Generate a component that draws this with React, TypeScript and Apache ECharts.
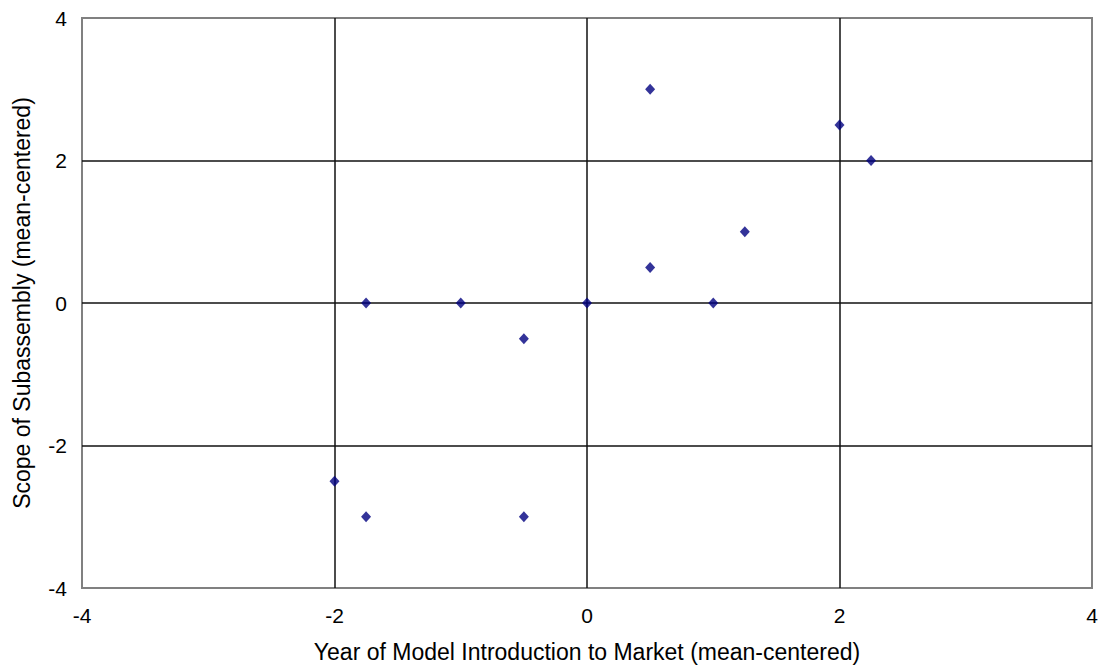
import React, { useEffect, useRef } from "react";
import * as echarts from "echarts";

const xValues = [0.5, 2, 2.25, 1.25, 0.5, 1, 0, -1, -1.75, -0.5, -2, -1.75, -0.5];
const yValues = [3, 2.5, 2, 1, 0.5, 0, 0, 0, 0, -0.5, -2.5, -3, -3];
const xTitle = "Year of Model Introduction to Market (mean-centered)";
const yTitle = "Scope of Subassembly (mean-centered)";

export default function App() {
  const ref = useRef<HTMLDivElement>(null);
  useEffect(() => {
    if (!ref.current) return;
    const chart = echarts.init(ref.current, null, { renderer: "svg" });
    const font = "'Liberation Sans', Arial, sans-serif";
    const splitColors = ["transparent", "#111", "#111", "#111", "transparent"];
    chart.setOption({
      animation: false,
      backgroundColor: "#fff",
      grid: {
        left: 82,
        top: 18,
        right: 8,
        bottom: 78,
        show: true,
        borderColor: "#808080",
        borderWidth: 2,
        backgroundColor: "transparent",
        outerBoundsMode: "none",
        containLabel: false,
      },
      xAxis: {
        type: "value",
        min: -4,
        max: 4,
        interval: 2,
        name: xTitle,
        nameLocation: "middle",
        nameGap: 52,
        nameTextStyle: { fontFamily: font, fontSize: 23, color: "#000" },
        axisLine: { show: false },
        axisTick: { show: false },
        axisLabel: { fontFamily: font, fontSize: 21, color: "#000", margin: 17 },
        splitLine: { show: true, lineStyle: { color: splitColors, width: 1.5 } },
      },
      yAxis: {
        type: "value",
        min: -4,
        max: 4,
        interval: 2,
        name: yTitle,
        nameLocation: "middle",
        nameGap: 49,
        nameTextStyle: { fontFamily: font, fontSize: 23, color: "#000" },
        axisLine: { show: false },
        axisTick: { show: false },
        axisLabel: { fontFamily: font, fontSize: 21, color: "#000", margin: 15 },
        splitLine: { show: true, lineStyle: { color: splitColors, width: 1.5 } },
      },
      series: [
        {
          type: "scatter",
          data: xValues.map((x, i) => [x, yValues[i]]),
          symbol: "diamond",
          symbolSize: [10, 11],
          itemStyle: { color: "#000080" },
          z: 5,
        },
      ],
    });
    return () => chart.dispose();
  }, []);
  return (
    <div
      ref={ref}
      style={{ position: "fixed", left: 0, top: 0, width: 1100, height: 666 }}
    />
  );
}
